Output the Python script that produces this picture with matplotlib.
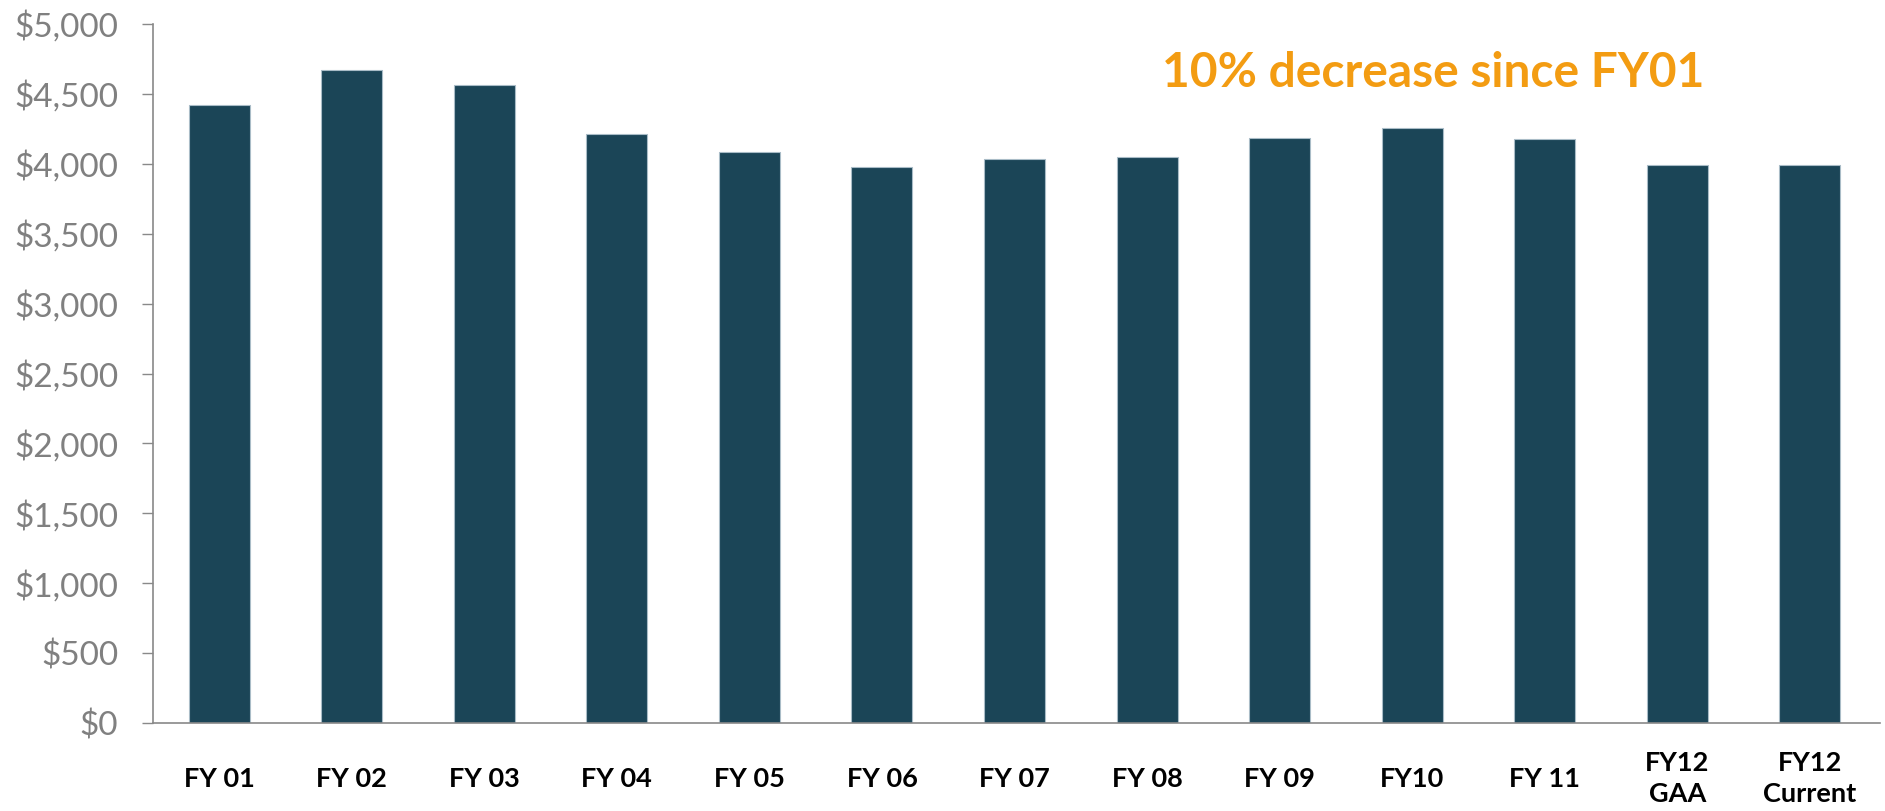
import matplotlib
matplotlib.use("Agg")
import matplotlib.pyplot as plt
from matplotlib.ticker import FuncFormatter, MultipleLocator

categories = ["FY 01", "FY 02", "FY 03", "FY 04", "FY 05", "FY 06", "FY 07",
              "FY 08", "FY 09", "FY10", "FY 11", "FY12\nGAA", "FY12\nCurrent"]
values = [4424, 4672, 4564, 4213, 4082, 3975, 4032, 4046, 4182, 4256, 4180, 3991, 3991]
annotation = "10% decrease since FY01"

plt.rcParams['font.family'] = ['Lato', 'DejaVu Sans']

fig = plt.figure(figsize=(18.85, 8.11), dpi=100)
ax = fig.add_axes([153/1885, 88/811, (1880-153)/1885, (723-24)/811])

x = list(range(len(categories)))
ax.bar(x, values, width=0.46, color='#1B4557', edgecolor='#A9BCC7', linewidth=0.8)

ax.set_xlim(-0.5, 12.53)
ax.set_ylim(0, 5000)
ax.yaxis.set_major_locator(MultipleLocator(500))
ax.yaxis.set_major_formatter(FuncFormatter(lambda v, p: f"${int(v):,}"))

ax.set_xticks(x)
ax.set_xticklabels(categories, fontweight='bold', fontsize=19.5, color='black',
                   va='center', linespacing=1.35)
ax.tick_params(axis='x', length=0, pad=40)
ax.tick_params(axis='y', length=8, width=1.0, color='#898989', labelsize=24,
               labelcolor='#808080', pad=17)

for s in ['top', 'right']:
    ax.spines[s].set_visible(False)
for s in ['left', 'bottom']:
    ax.spines[s].set_color('#898989')
    ax.spines[s].set_linewidth(1.2)

ax.text(7.11, 4549, annotation, color='#F39C12', fontsize=34.5, fontweight='bold',
        ha='left', va='baseline')

fig.savefig("out.png", dpi=100)
